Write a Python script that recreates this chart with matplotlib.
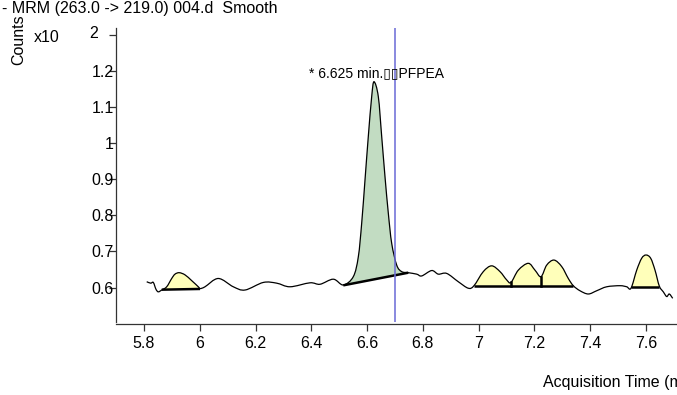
import numpy as np
import matplotlib
matplotlib.use("Agg")
import matplotlib.pyplot as plt
from matplotlib.path import Path
from matplotlib.patches import PathPatch

# ---------------- data ----------------
title = "- MRM (263.0 -> 219.0) 004.d  Smooth"
x_label = "Acquisition Time (min)"
y_label = "Counts"
y_exponent = "2"
peak_label = "* 6.625 min.\u25af\u25afPFPEA"
marker_time = 6.7

x_ticks = [5.8, 6.0, 6.2, 6.4, 6.6, 6.8, 7.0, 7.2, 7.4, 7.6]
x_tick_labels = ["5.8", "6", "6.2", "6.4", "6.6", "6.8", "7", "7.2", "7.4", "7.6"]
y_ticks = [0.6, 0.7, 0.8, 0.9, 1.0, 1.1, 1.2, 1.3]
y_tick_labels = ["0.6", "0.7", "0.8", "0.9", "1", "1.1", "1.2", ""]

trace_time = [5.8097, 5.8240, 5.8334, 5.8430, 5.8513, 5.8635, 5.8814, 5.8994, 5.9112,
              5.9266, 5.9471, 5.9711, 5.9948, 6.0009, 6.0188, 6.0665, 6.1203, 6.1623,
              6.2279, 6.2760, 6.3237, 6.3954, 6.4313, 6.4790, 6.5149, 6.5507, 6.5687,
              6.5808, 6.5927, 6.6045, 6.6167, 6.6250, 6.6404, 6.6526, 6.6644, 6.6763,
              6.6885, 6.7064, 6.7243, 6.7480, 6.7781, 6.7960, 6.8319, 6.8556, 6.8857,
              6.9273, 6.9632, 6.9836, 7.0170, 7.0471, 7.0769, 7.1009, 7.1164, 7.1425,
              7.1784, 7.2024, 7.2240, 7.2444, 7.2706, 7.2982, 7.3219, 7.3398, 7.3638,
              7.3936, 7.4237, 7.4596, 7.5073, 7.5313, 7.5468, 7.5672, 7.5851, 7.6006,
              7.6174, 7.6329, 7.6483, 7.6626, 7.6748, 7.6842, 7.6963]
trace_counts = [0.616, 0.612, 0.614, 0.595, 0.588, 0.593, 0.602, 0.625, 0.637,
                0.641, 0.635, 0.619, 0.602, 0.597, 0.602, 0.625, 0.602, 0.593,
                0.614, 0.612, 0.602, 0.613, 0.609, 0.623, 0.607, 0.630, 0.685,
                0.778, 0.898, 1.018, 1.129, 1.170, 1.129, 1.018, 0.907, 0.806,
                0.722, 0.662, 0.644, 0.641, 0.637, 0.632, 0.647, 0.637, 0.639,
                0.616, 0.598, 0.605, 0.644, 0.660, 0.644, 0.621, 0.614, 0.648,
                0.667, 0.648, 0.630, 0.662, 0.676, 0.658, 0.625, 0.605, 0.591,
                0.582, 0.591, 0.602, 0.605, 0.602, 0.598, 0.648, 0.681, 0.690,
                0.681, 0.648, 0.604, 0.588, 0.575, 0.582, 0.570]

# integrated peaks: start/end time and baseline value at start/end
peak_start = [5.8635, 6.5149, 6.9836, 7.5468]
peak_end = [6.0009, 6.7480, 7.3398, 7.6483]
base_start = [0.594, 0.606, 0.605, 0.601]
base_end = [0.596, 0.641, 0.605, 0.601]
peak_colors = ["#FFFFBA", "#C2DCC2", "#FFFFBA", "#FFFFBA"]
split_times = [7.1164, 7.2240]   # drop lines inside the cluster

# ---------------- figure ----------------
W, H = 677, 395
fig = plt.figure(figsize=(W / 100, H / 100), dpi=100)
fig.patch.set_facecolor("white")
FONT = ["Liberation Sans", "DejaVu Sans"]
plt.rcParams["font.family"] = FONT

ax_left, ax_right, ax_top, ax_bot = 115.5, 677, 28, 322
ax = fig.add_axes([ax_left / W, 1 - ax_bot / H, (ax_right - ax_left) / W, (ax_bot - ax_top) / H])

ax.set_xlim(5.8 - (144 - ax_left) / 278.8, 5.8 + (ax_right - 144) / 278.8)
ax.set_ylim(0.6 - (ax_bot - 287.5) / 361, 0.6 + (287.5 - ax_top) / 361)


def smooth(ts, vs):
    pts = np.column_stack([ts, vs]).astype(float)
    n = len(pts)
    verts = [pts[0]]
    codes = [Path.MOVETO]
    for i in range(n - 1):
        p0 = pts[i - 1] if i > 0 else pts[i]
        p1, p2 = pts[i], pts[i + 1]
        p3 = pts[i + 2] if i + 2 < n else pts[i + 1]
        verts += [p1 + (p2 - p0) / 6, p2 - (p3 - p1) / 6, p2]
        codes += [Path.CURVE4] * 3
    return verts, codes


tt = np.array(trace_time)
cc = np.array(trace_counts)

for s, e, bs, be, col in zip(peak_start, peak_end, base_start, base_end, peak_colors):
    m = (tt >= s - 1e-6) & (tt <= e + 1e-6)
    verts, codes = smooth(tt[m], cc[m])
    verts = verts + [(e, be), (s, bs), (s, bs)]
    codes = codes + [Path.LINETO, Path.LINETO, Path.CLOSEPOLY]
    ax.add_patch(PathPatch(Path(verts, codes), facecolor=col, edgecolor="none", zorder=1))
    ax.plot([s, e], [bs, be], color="black", lw=1.8, zorder=3, solid_capstyle="butt")

for st in split_times:
    i = trace_time.index(st)
    ax.plot([st, st], [trace_counts[i], base_start[2]], color="black", lw=1.8, zorder=3)

verts, codes = smooth(tt, cc)
ax.add_patch(PathPatch(Path(verts, codes), facecolor="none", edgecolor="black", lw=0.9, zorder=2))

ax.axvline(marker_time, color="#6A6AD6", lw=1.1, zorder=4)

for sp in ["top", "right"]:
    ax.spines[sp].set_visible(False)
ax.spines["left"].set_color("#333333")
ax.spines["bottom"].set_color("#333333")
ax.spines["bottom"].set_position(("outward", 1.5))
ax.spines["left"].set_linewidth(0.9)
ax.spines["bottom"].set_linewidth(0.9)

ax.set_xticks(x_ticks)
ax.set_xticklabels(x_tick_labels)
ax.set_yticks(y_ticks)
ax.set_yticklabels(y_tick_labels)
ax.tick_params(axis="x", direction="out", length=5, width=0.9, colors="#333333",
               labelcolor="black", labelsize=11.5, pad=3.5)
ax.tick_params(axis="y", direction="out", length=5, width=0.9, colors="#333333",
               labelcolor="black", labelsize=11.5, pad=-4)

fig.text(2 / W, 1 - 8 / H, title, fontsize=11.5, ha="left", va="center")
fig.text(19 / W, 1 - 40 / H, y_label, fontsize=11.5, rotation=90, ha="center", va="center")
fig.text(34 / W, 1 - 38 / H, "x10", fontsize=11.5, ha="left", va="center")
fig.text(94 / W, 1 - 33 / H, y_exponent, fontsize=11.5, ha="center", va="center")
fig.text(309 / W, 1 - 73 / H, peak_label, fontsize=10, ha="left", va="center", zorder=5)
fig.text(543 / W, 1 - 383 / H, x_label, fontsize=11.5, ha="left", va="center")

fig.savefig("out.png", dpi=100, facecolor="white")
